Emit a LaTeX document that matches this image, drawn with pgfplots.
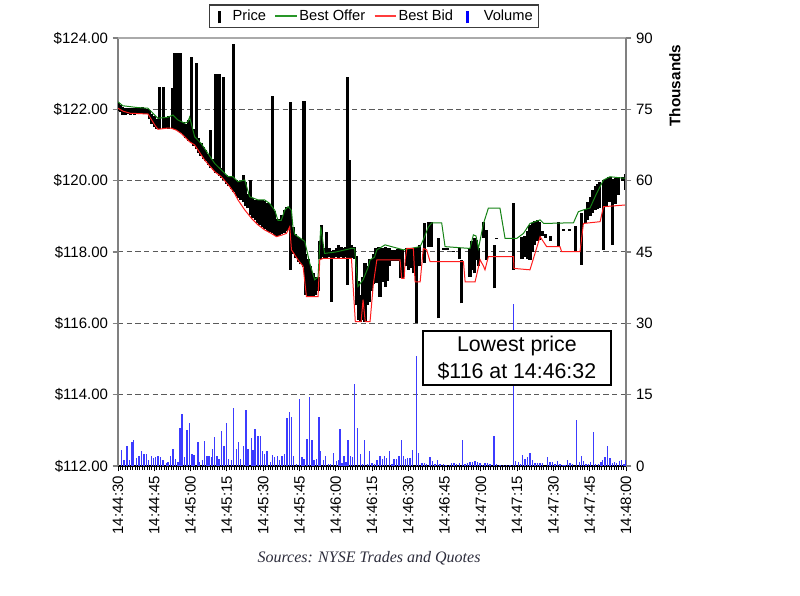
\documentclass[border=0pt]{standalone}
\usepackage{fontspec}
\setmainfont{Liberation Sans}
\newfontfamily\srcfont{Liberation Serif}
\usepackage{pgfplots}
\pgfplotsset{compat=1.18}
\usepackage{pgfplotstable}

\definecolor{offer}{RGB}{20,130,20}
\definecolor{bid}{RGB}{255,30,30}
\definecolor{vol}{RGB}{60,60,255}
\definecolor{spine}{RGB}{128,128,128}
\definecolor{topline}{RGB}{170,170,170}
\definecolor{gridc}{RGB}{90,90,90}
\definecolor{srcgray}{RGB}{45,45,60}
\newcommand\tlfont{\fontsize{11.25}{13}\selectfont}

\pgfplotstableread{
t lo hi
0 121.95 122.18
1 121.92 122.12
2 121.85 122.06
3 121.84 122.05
4 121.88 122.05
5 121.84 122.04
6 121.87 122.03
7 121.84 122.05
8 121.88 122.04
9 121.86 122.05
10 121.88 122.06
11 121.86 122.04
12 121.88 122.02
13 121.72 121.98
14 121.60 121.88
15 121.50 121.80
16 121.45 121.74
17.3 121.45 122.63
18.8 121.46 122.63
20 121.48 121.76
21 121.46 121.80
22.4 121.46 122.60
23.2 121.44 123.59
24.1 121.42 123.59
25.0 121.38 123.59
25.9 121.34 123.59
27 121.28 121.64
28 121.20 121.60
29 121.12 121.70
30.2 121.05 123.47
31.2 120.98 121.45
32.3 120.88 123.30
33.3 120.78 121.20
34.3 120.70 121.05
35.3 120.62 120.95
36.3 120.54 120.85
37.3 120.45 120.75
38.4 120.36 121.42
39.4 120.30 120.62
40.5 120.22 122.98
41.8 120.14 122.98
42.9 120.08 120.36
43.8 120.02 122.90
44.8 119.92 120.16
45.8 119.84 120.12
46.8 119.76 120.10
47.8 119.68 123.83
48.8 119.58 120.02
49.8 119.50 119.96
50.8 119.46 119.98
51.7 119.40 120.16
52.7 119.30 119.95
53.7 119.22 119.62
54.7 119.05 120.02
55.7 118.96 119.52
56.7 118.90 119.46
57.7 118.80 119.46
58.7 118.75 119.45
59.7 118.70 119.45
60.7 118.65 119.42
61.7 118.60 119.38
62.7 118.55 119.34
63.7 118.52 122.37
64.7 118.48 119.15
65.7 118.44 118.92
66.7 118.46 118.92
67.7 118.50 119.05
68.7 118.54 119.18
69.7 118.58 119.25
70.6 118.65 119.25
71.5 117.50 122.20
72.5 117.95 118.70
73.5 117.82 118.50
74.5 117.72 118.42
75.5 117.65 118.36
76.9 117.58 122.23
77.7 116.80 117.95
78.7 116.75 117.80
79.7 116.76 117.60
80.7 116.78 117.40
81.7 116.80 117.30
82.7 116.90 117.30
83.5 117.80 118.30
84.3 117.85 118.76
85.3 117.84 118.10
86.3 117.84 118.57
87.3 117.85 118.10
88.2 116.60 118.02
89.2 117.84 118.05
90.2 117.85 118.10
91.2 117.84 118.20
92.2 117.85 118.15
93.2 117.84 118.10
94.2 117.85 118.15
95.0 117.08 122.90
95.8 117.80 120.58
96.7 117.84 118.20
97.6 117.80 118.15
98.5 116.50 117.90
99.4 116.10 117.20
100.3 116.05 116.80
101.2 116.10 117.30
102.1 116.05 117.70
103.0 116.50 117.60
103.9 116.60 117.80
104.8 116.90 117.80
105.7 117.10 117.95
106.6 117.12 118.10
107.5 117.12 118.15
108.3 116.75 118.10
109.2 117.15 118.12
110.4 117.03 118.15
111.3 117.20 118.10
112.2 117.60 118.10
113.5 117.75 118.05
114.5 117.76 118.05
115.5 117.75 118.08
116.6 117.26 118.08
117.5 117.26 118.05
119.2 117.60 118.12
120.2 117.50 118.10
121.2 117.55 118.12
122.2 117.40 118.10
123.5 116.00 118.15
124.8 117.60 118.20
126.7 117.70 118.80
128.3 118.15 118.85
129.5 118.15 118.85
132.5 116.14 118.38
134.5 118.06 118.12
136.0 118.05 118.12
138.6 118.00 118.03
141.0 117.80 118.10
142.0 116.56 117.78
145.5 117.30 118.10
146.3 117.50 118.30
147.2 117.40 118.38
148.2 117.78 118.35
149.1 117.60 118.10
151.1 118.40 118.85
152.2 117.78 118.62
155.5 116.98 118.19
156.6 118.36 118.40
163.5 117.50 119.36
167.0 117.80 118.42
168.0 117.85 118.45
169.2 117.80 118.60
170.3 117.78 118.75
171.3 118.00 118.80
172.3 118.20 118.88
173.3 118.30 118.90
174.3 118.35 118.85
175.5 118.45 118.60
176.6 118.40 118.50
178.6 118.30 118.45
182.1 118.15 118.85
184.1 118.60 118.65
186.6 118.60 118.65
189.0 118.01 118.72
191.7 117.64 119.10
193.1 118.80 119.20
194.2 118.90 119.40
195.2 119.00 119.55
196.2 119.10 119.75
197.2 119.18 119.85
198.2 119.20 119.90
199.2 119.22 119.95
200.7 118.05 120.02
201.8 119.30 120.05
202.8 119.40 120.10
203.6 119.40 120.10
204.5 118.20 120.05
205.5 119.35 120.08
206.9 119.60 120.10
208.5 120.00 120.10
209.7 119.74 120.20
}\pricetab

\pgfplotstableread{
t p
0 122.21
2 122.10
8 122.05
12.4 122.03
16.5 121.75
20.7 121.78
22.7 121.84
24.8 121.70
27.6 121.61
28.9 121.65
29.6 121.78
31.7 121.23
34.4 121.04
37.2 120.76
40.0 120.48
42.7 120.30
45.5 120.11
47.5 120.11
49.6 119.97
52.4 120.02
54.4 119.55
57.9 119.46
60.6 119.46
62.7 119.36
64.8 119.17
66.1 118.89
67.5 118.89
68.9 119.17
70.3 119.27
71.7 119.17
72.3 118.71
73.0 118.50
74.4 118.43
77.2 118.30
79.2 117.70
81.3 117.22
82.7 117.30
83.8 118.71
85.4 117.96
90.0 118.00
96.5 118.10
97.8 118.10
99.2 117.03
101.3 117.22
103.3 117.55
104.2 117.78
106.0 117.85
107.0 118.06
110.4 118.20
118.0 118.06
124.9 118.15
126.2 118.34
128.3 118.70
129.7 118.82
133.8 118.82
135.2 118.15
145.5 118.10
146.9 118.48
148.0 118.45
149.0 118.10
151.1 118.80
153.1 119.23
157.9 119.23
160.0 118.38
164.8 118.38
167.6 118.52
170.3 118.80
174.5 118.90
176.0 118.80
188.3 118.82
190.3 119.13
192.4 119.18
195.1 119.23
197.9 119.65
200.7 120.02
203.4 120.11
208.9 120.07
210.0 120.07
}\offertab

\pgfplotstableread{
t p
0 122.03
2 121.95
5 121.89
12.4 121.87
15.2 121.56
16.5 121.44
20.0 121.47
22.0 121.47
24.0 121.42
26.0 121.33
27.6 121.23
29.6 121.09
31.7 121.00
35.8 120.58
40.0 120.25
42.7 120.11
46.0 119.85
48.2 119.64
49.6 119.46
52.4 119.18
55.1 118.95
57.9 118.76
60.6 118.62
63.4 118.52
65.5 118.43
67.5 118.47
69.6 118.52
71.0 118.71
71.7 118.06
74.4 117.78
76.5 117.60
77.9 116.75
82.7 116.75
83.4 117.78
84.7 117.82
96.5 117.82
98.1 116.05
100.5 116.05
101.3 116.66
102.2 116.05
104.2 116.05
105.6 117.13
107.0 117.78
116.6 117.78
117.3 117.26
118.3 117.26
118.7 117.78
119.4 118.10
122.1 118.10
122.8 117.16
124.9 117.16
126.2 118.10
127.6 118.06
129.0 117.73
142.8 117.73
143.5 117.16
147.6 117.16
149.7 117.78
151.1 117.60
151.7 117.50
153.1 117.87
163.5 117.87
163.7 117.54
170.3 117.50
174.5 118.43
177.2 118.15
182.7 118.15
183.4 118.01
191.0 118.01
192.4 118.80
199.3 118.85
200.7 119.27
210.0 119.32
}\bidtab

\pgfplotstableread{
t v
1.4 3.4
2.5 1.3
3.7 4.2
4.8 1.3
5.8 5.1
6.5 5.5
7.6 1.6
8.7 2.2
9.6 3.2
10.7 2.5
11.7 2.5
12.7 1.3
13.8 2.2
14.7 1.6
15.6 1.8
16.5 2.1
17.6 1.8
18.6 1.3
20.0 0.7
20.7 0.9
21.6 2.1
22.7 3.5
23.7 1.4
24.8 0.8
25.6 7.9
26.5 10.9
27.6 1.8
28.5 7.6
29.6 9.0
30.6 2.5
31.4 2.4
33.1 5.0
33.8 0.9
34.9 1.3
35.8 5.2
36.8 2.2
37.6 2.2
38.6 1.8
39.0 3.5
40.0 6.0
40.9 2.2
41.8 1.4
42.7 7.3
43.8 4.2
44.9 9.0
45.7 1.4
46.9 1.3
47.8 12.3
48.9 3.6
49.9 5.1
50.7 1.4
51.8 4.2
52.9 11.8
53.7 3.6
55.1 5.8
55.8 3.4
56.6 7.7
57.9 6.3
58.8 6.3
59.7 3.2
60.6 2.5
61.6 3.2
63.1 0.8
63.8 2.3
64.8 1.8
65.9 2.1
66.8 1.3
67.8 2.1
68.9 2.5
69.9 10.0
70.8 11.4
71.7 10.2
72.6 2.2
73.7 0.4
75.1 14.0
76.1 1.8
76.9 1.5
78.1 5.7
79.1 14.6
80.2 5.5
81.0 1.3
82.0 1.4
83.1 10.3
83.8 3.2
85.0 1.3
85.8 2.1
87.1 0.4
87.9 0.4
89.0 2.7
90.3 1.1
91.1 1.3
91.8 7.7
92.6 0.6
93.4 2.1
94.3 0.9
95.1 5.5
96.0 2.1
96.9 1.8
97.8 17.2
98.9 7.9
100.2 2.5
101.0 0.4
102.0 5.5
103.1 0.4
104.0 3.2
105.0 0.7
106.1 0.4
107.1 1.3
108.3 2.1
109.3 1.4
110.3 2.1
111.1 1.6
112.1 3.2
113.2 0.4
114.1 1.4
115.2 1.4
116.2 2.1
117.3 5.5
118.0 2.1
118.9 1.4
119.8 1.6
120.7 1.6
121.8 3.4
123.5 23.1
124.3 2.7
125.6 0.7
126.7 0.7
127.6 0.4
129.0 1.8
130.0 1.1
131.1 0.4
132.2 1.3
133.1 0.4
134.5 0.4
135.6 0.2
136.9 0.3
137.9 0.7
138.9 0.6
140.0 0.4
141.1 0.7
142.4 5.5
143.5 0.4
144.4 0.6
145.5 0.9
146.6 0.8
147.6 1.1
148.6 0.8
149.7 0.6
150.8 0.2
151.7 0.6
152.7 0.6
153.8 0.4
155.5 6.3
156.6 0.4
157.9 0.2
159.3 0.2
160.7 0.2
162.1 0.2
163.5 34.1
164.4 1.1
165.5 0.9
166.5 0.4
167.3 2.3
168.3 1.4
169.2 1.8
170.3 2.7
171.3 1.3
172.4 0.7
173.5 0.7
174.5 0.7
175.6 0.7
177.5 1.8
178.6 0.9
179.6 0.9
180.7 0.4
181.8 1.1
182.7 0.4
183.9 0.2
184.8 0.2
185.9 1.3
186.9 0.7
187.8 0.4
189.6 9.7
190.7 0.9
191.7 2.1
192.4 1.0
193.5 0.4
194.5 0.4
195.4 0.9
196.5 7.2
197.5 0.4
198.6 0.4
199.6 0.9
200.4 1.3
201.3 1.8
202.3 4.1
203.4 1.6
204.5 0.6
205.2 0.9
206.2 0.6
207.3 1.1
208.2 1.3
209.2 0.4
209.9 1.3
}\voltab

\begin{document}
\begin{tikzpicture}
\useasboundingbox (0,0) rectangle (600pt,447pt);
\begin{axis}[
  at={(88.5pt,97.5pt)}, anchor=south west,
  scale only axis, width=381pt, height=321pt,
  xmin=0, xmax=210, ymin=112, ymax=124,
  axis x line*=bottom, axis y line*=left,
  x axis line style={black, line width=0.8pt},
  y axis line style={spine, line width=0.8pt},
  xtick={0,15,...,210},
  xticklabels={14:44:30,14:44:45,14:45:00,14:45:15,14:45:30,14:45:45,14:46:00,14:46:15,14:46:30,14:46:45,14:47:00,14:47:15,14:47:30,14:47:45,14:48:00},
  minor x tick num=14,
  ytick={112,114,...,124},
  yticklabels={\$112.00,\$114.00,\$116.00,\$118.00,\$120.00,\$122.00,\$124.00},
  tick align=outside,
  major tick length=4pt, minor tick length=3pt,
  xtick style={black, line width=0.6pt},
  ytick style={spine, line width=0.8pt},
  xticklabel style={rotate=90, anchor=east, font=\tlfont},
  yticklabel style={font=\tlfont},
  ymajorgrids,
  major grid style={gridc, line width=0.75pt, dash pattern=on 4pt off 2.5pt},
  legend columns=4,
  legend cell align=left,
  legend style={at={(0.504,1)}, anchor=south, yshift=7.5pt,
    draw={rgb,255:red,60;green,60;blue,60}, line width=1pt, fill=white,
    font=\fontsize{11}{13}\selectfont,
    inner xsep=3pt, inner ysep=2pt,
    nodes={inner sep=1.5pt},
    /tikz/every even column/.append style={column sep=5pt}},
]
\addlegendimage{legend image code/.code={\draw[draw=black,line width=2pt] (4.5pt,-5.5pt)--(4.5pt,3.5pt); \path[draw=none,fill=none] (0pt,0pt)--(13pt,0pt);}}
\addlegendentry{Price}
\addlegendimage{legend image code/.code={\draw[color={rgb,255:red,40;green,150;blue,40}, draw={rgb,255:red,40;green,150;blue,40}, line width=1pt] (0pt,0pt)--(16pt,0pt);}}
\addlegendentry{Best Offer}
\addlegendimage{legend image code/.code={\draw[color={rgb,255:red,255;green,60;blue,60}, draw={rgb,255:red,255;green,60;blue,60}, line width=1pt] (0pt,0pt)--(16pt,0pt);}}
\addlegendentry{Best Bid}
\addlegendimage{legend image code/.code={\draw[draw=blue,line width=2pt] (4.5pt,-5.5pt)--(4.5pt,3.5pt); \path[draw=none,fill=none] (0pt,0pt)--(15pt,0pt);}}
\addlegendentry{Volume}

\addplot[black, line width=2.3pt, forget plot, quiver={u=0, v=\thisrow{hi}-\thisrow{lo}}] table[x=t, y=lo] {\pricetab};
\addplot[offer, line width=0.75pt, forget plot] table[x=t, y=p] {\offertab};
\addplot[bid, line width=0.75pt, forget plot] table[x=t, y=p] {\bidtab};
\end{axis}

\begin{axis}[
  at={(88.5pt,97.5pt)}, anchor=south west,
  scale only axis, width=381pt, height=321pt,
  xmin=0, xmax=210, ymin=0, ymax=90,
  axis x line*=top, axis y line*=right,
  x axis line style={topline, line width=0.8pt},
  y axis line style={spine, line width=0.8pt},
  xtick=\empty,
  ytick={0,15,...,90},
  yticklabels={0,15,30,45,60,75,90},
  tick align=outside, major tick length=4pt,
  ytick style={spine, line width=0.8pt},
  yticklabel style={font=\tlfont},
]
\addplot[ycomb, vol, line width=1pt] table[x=t, y=v] {\voltab};
\node[draw=black, line width=1.1pt, fill=white, align=center, inner sep=0pt,
  minimum width=141pt, minimum height=40.5pt,
  font=\fontsize{16}{20}\selectfont] at (axis cs:164.9,22.7) {Lowest price\\\$116 at 14:46:32};
\end{axis}

\node[rotate=90, anchor=east, font=\bfseries\fontsize{11.5}{13}\selectfont] at (506.25pt,417pt) {Thousands};
\node[anchor=base, font=\srcfont\itshape\fontsize{12}{14}\selectfont, text=srcgray] at (276.75pt,24.75pt) {Sources: NYSE Trades and Quotes};
\end{tikzpicture}
\end{document}
